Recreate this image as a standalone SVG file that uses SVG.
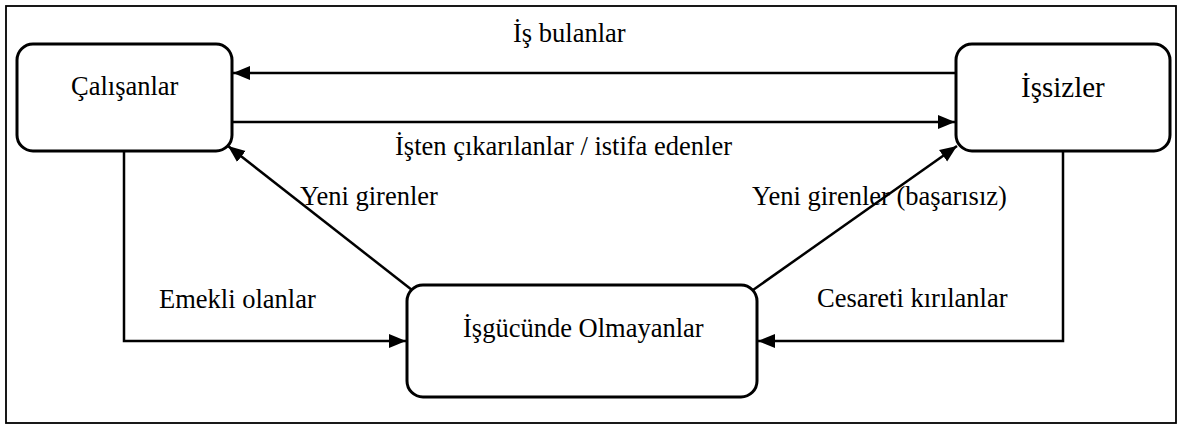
<svg xmlns="http://www.w3.org/2000/svg" width="1180" height="426" viewBox="0 0 1180 426">
<style>
text{font-family:"Liberation Serif","Times New Roman",serif;font-size:26.5px;fill:#000}
.box{fill:#fff;stroke:#000;stroke-width:3}
.ln{fill:none;stroke:#000;stroke-width:2.5}
</style>
<defs>
<marker id="ah" markerUnits="userSpaceOnUse" markerWidth="18" markerHeight="16" refX="17" refY="8" orient="auto">
<path d="M0,1 L17,8 L0,15 Z" fill="#000"/>
</marker>
</defs>
<rect x="6" y="6" width="1170" height="417" fill="#fff" stroke="#000" stroke-width="1.8"/>
<g id="connectors">
<line class="ln" x1="956" y1="73" x2="233" y2="73" marker-end="url(#ah)"/>
<line class="ln" x1="232" y1="122" x2="955" y2="122" marker-end="url(#ah)"/>
<polyline class="ln" points="124,151 124,341 406,341" marker-end="url(#ah)"/>
<polyline class="ln" points="1063,151 1063,341 758,341" marker-end="url(#ah)"/>
<line class="ln" x1="412" y1="290" x2="228" y2="146" marker-end="url(#ah)"/>
<line class="ln" x1="753" y1="290" x2="957" y2="146" marker-end="url(#ah)"/>
<text x="513" y="42">İş bulanlar</text>
<text x="395" y="155">İşten çıkarılanlar / istifa edenler</text>
<text x="300" y="205">Yeni girenler</text>
<text x="752" y="205">Yeni girenler (başarısız)</text>
<text x="159" y="308">Emekli olanlar</text>
<text x="817" y="307">Cesareti kırılanlar</text>
</g>
<g id="calisanlar">
<rect class="box" x="17" y="44" width="215" height="107" rx="16"/>
<text x="71" y="95">Çalışanlar</text>
</g>
<g id="issizler">
<rect class="box" x="956" y="44" width="214" height="107" rx="16"/>
<text x="1021" y="97" style="font-size:29px">İşsizler</text>
</g>
<g id="isgucunde">
<rect class="box" x="407" y="285" width="350" height="112" rx="16"/>
<text x="463" y="337">İşgücünde Olmayanlar</text>
</g>
</svg>
